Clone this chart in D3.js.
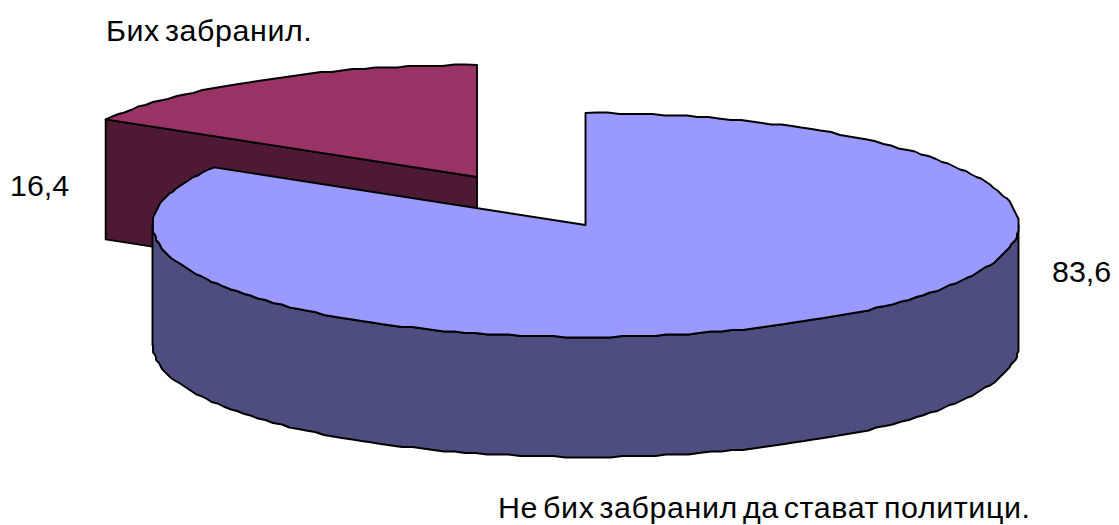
<!DOCTYPE html>
<html><head><meta charset="utf-8">
<script src="https://cdn.jsdelivr.net/npm/d3@7/dist/d3.min.js"></script>
<style>html,body{margin:0;padding:0;background:#fff}svg{display:block}text{font-family:"Liberation Sans",Arial,sans-serif;font-size:30.4px;fill:#000;word-spacing:-4px}text.cat{letter-spacing:0.6px}</style>
</head><body><svg id="c" width="1119" height="525"></svg>
<script>
const categories = ["Не бих забранил да стават политици.", "Бих забранил."];
const values = [83.6, 16.4];
const valueLabels = ["83,6", "16,4"];
const topColors = ["#9999ff", "#993366"];
const wallColors = ["#4d4d80", "#4d1933"];

const svg = d3.select("#c");
const arcs = d3.pie().sort(null)(values);
const rx = 433, ry = 112, depth = 120, strokeW = 1.9;
const centers = [[585.5,225],[477,177]];
const valPos = [[1052,282],[10,196]];
const catPos = [[498,518],[106,41]];
const grid = 1.5;                       // the reference's rim is slightly stepped
const snap = v => Math.round(v/grid)*grid;
const line = d3.line();

function drawSlice(i){
  const a = arcs[i], [cx,cy] = centers[i];
  const x = d3.scaleLinear().domain([-1,1]).range([cx-rx,cx+rx]);
  const y = d3.scaleLinear().domain([-1,1]).range([cy-ry,cy+ry]);
  const pt = t => [x(Math.sin(t)), y(-Math.cos(t))];
  const n = Math.round((a.endAngle-a.startAngle)/(2*Math.PI)*240);
  const ts = d3.range(0,n+1).map(k=>a.startAngle+(a.endAngle-a.startAngle)*k/n);
  const raw = ts.map(pt);
  const edge = raw.map((p,k)=>(k===0||k===n)?p:[snap(p[0]),snap(p[1])]);
  const g = svg.append("g");
  const style = s => s.attr("stroke","#000").attr("stroke-width",strokeW).attr("stroke-linejoin","round");
  if(i===0){
    // front rim wall, from the right extreme to the left extreme of the disc
    const front = edge.filter((p,k)=>ts[k]>=Math.PI/2 && ts[k]<=3*Math.PI/2);
    const r = [x(1),cy], l = [x(-1),cy];
    const rim = [r,...front,l];
    g.append("path").attr("d",line(rim.concat(rim.slice().reverse().map(p=>[p[0],p[1]+depth])))+"Z")
      .attr("fill",wallColors[i]).call(style);
  } else {
    // cut face from the outer corner to the centre
    const e = raw[0];
    g.append("path").attr("d",line([e,[cx,cy],[cx,cy+depth],[e[0],e[1]+depth]])+"Z")
      .attr("fill",wallColors[i]).call(style);
  }
  g.append("path").attr("d",line([[cx,cy],...edge])+"Z").attr("fill",topColors[i]).call(style);
}
drawSlice(1);
drawSlice(0);
categories.forEach((c,i)=>svg.append("text").attr("class","cat").attr("x",catPos[i][0]).attr("y",catPos[i][1]).text(c));
valueLabels.forEach((c,i)=>svg.append("text").attr("x",valPos[i][0]).attr("y",valPos[i][1]).text(c));
</script></body></html>
